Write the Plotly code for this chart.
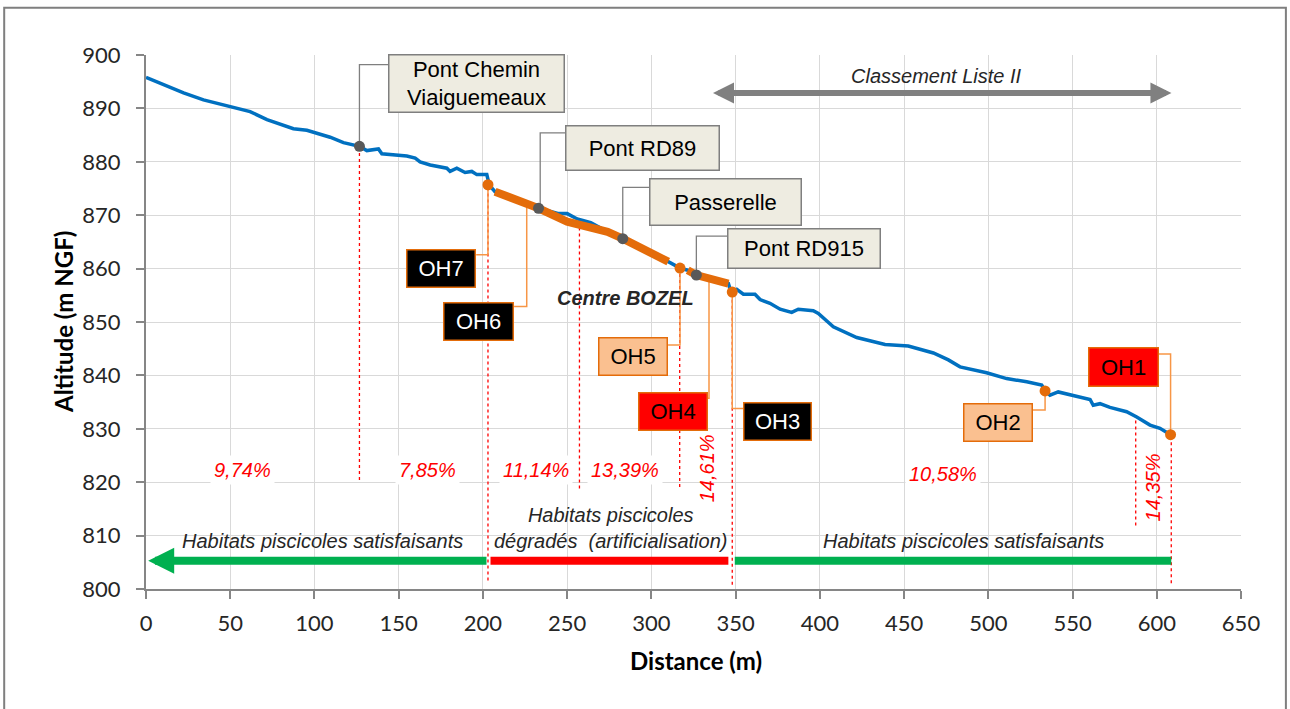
import plotly.graph_objects as go

# ---- data -------------------------------------------------------------
profile_d = [0, 10.4, 22.3, 34.1, 50, 61.8, 71.8, 87.5, 95.5, 109.3, 117.2, 126.7,
             131.1, 134.1, 138, 140, 146.9, 154.8, 159.8, 162.7, 168.7, 178.6, 180.5,
             184.5, 189.4, 193.4, 196.4, 202.3, 203.2, 205, 207.2, 226, 233, 245, 250,
             256, 264, 274, 283, 293.3, 303, 310, 315, 317, 321.6, 326.7, 345.7, 346.5,
             348, 350.7, 354.6, 361.5, 364.5, 370.4, 376.4, 383.3, 387.2, 396.1, 399.1,
             408, 421.9, 438.7, 452.5, 467.4, 476.3, 483.2, 499, 510.9, 522.8, 531.7,
             533.7, 536.6, 541.5, 550.4, 560.4, 562.3, 566.3, 572.2, 582.1, 588.1, 596,
             601.9, 608.2]
profile_alt = [895.8, 894.4, 892.9, 891.6, 890.4, 889.4, 887.9, 886.2, 885.9, 884.6, 883.6, 882.9,
               882.1, 882.2, 882.4, 881.5, 881.3, 881.1, 880.7, 880.0, 879.4, 878.8, 878.2,
               878.8, 878.0, 878.2, 877.6, 877.6, 876.4, 875.2, 874.4, 872.2, 871.3, 870.3, 870.3,
               869.3, 868.6, 866.9, 865.6, 863.8, 862.2, 861.3, 860.4, 860.1, 859.7, 858.8, 857.2, 856.4,
               855.6, 856.1, 855.2, 855.2, 854.2, 853.5, 852.4, 851.8, 852.4, 852.1, 851.6,
               849.1, 847.1, 845.8, 845.5, 844.2, 842.9, 841.6, 840.5, 839.4, 838.8, 838.2,
               837.1, 836.3, 836.9, 836.3, 835.5, 834.4, 834.7, 834.0, 833.2, 832.2, 830.7,
               830.1, 828.9]

# artificialised reaches (orange)
seg1_d = [207.2, 226, 233, 250, 264, 274, 283, 293.3, 310]
seg1_alt = [874.4, 872.2, 871.3, 868.8, 867.9, 866.9, 865.6, 863.8, 861.3]
seg2_d = [321.6, 326.7, 345.7]
seg2_alt = [859.7, 858.8, 857.2]

# bridges (grey points)
bridge_names = ["Pont Chemin<br>Viaiguemeaux", "Pont RD89", "Passerelle", "Pont RD915"]
bridge_d = [126.7, 233, 283, 326.7]
bridge_alt = [882.9, 871.3, 865.6, 858.8]

# obstacles (orange points)
oh_point_d = [203, 317, 348, 533.7, 608.2]
oh_point_alt = [875.7, 860.1, 855.6, 837.1, 828.9]

# slope boundaries (red dashed): distance, top, bottom
slope_d = [126.7, 203, 257.3, 316.8, 348, 587.5, 608.6]
slope_top = [882.9, 875.7, 867.9, 860.1, 855.6, 831.9, 828.9]
slope_bot = [820.4, 801.6, 818.8, 819.1, 800.8, 811.9, 801.1]

slope_labels = ["9,74%", "7,85%", "11,14%", "13,39%", "14,61%", "10,58%", "14,35%"]
slope_lab_d = [57, 167, 231.6, 284.4, 333, 473, 598]
slope_lab_alt = [822.2, 822.2, 822.2, 822.2, 822.6, 821.6, 819.1]
slope_lab_angle = [0, 0, 0, 0, -90, 0, -90]

# habitat bars
hab_green1 = (1.3, 203)
hab_red = (204.5, 345.7)
hab_green2 = (349.5, 608.6)
hab_alt = 805.3
liste2 = (335.7, 608.7, 892.9)

# ---- figure -----------------------------------------------------------
fig = go.Figure()

BLUE = "#0070C0"
ORANGE = "#E46C0A"
LORANGE = "#F79646"
GREY = "#595959"

# dashed slope boundaries
for d, t, b in zip(slope_d, slope_top, slope_bot):
    fig.add_shape(type="line", xref="x", yref="y", x0=d, x1=d, y0=b, y1=t,
                  line=dict(color="#FF0000", width=1.3, dash="3px,3px"), layer="between")

# connectors (label leader lines): list of polylines
grey_leaders = [
    ([126.7, 126.7, 143.7], [882.9, 898.2, 898.2]),
    ([234, 234, 248.8], [871.1, 885.4, 885.4]),
    ([283, 283, 298.6], [865.6, 875.2, 875.2]),
    ([326.7, 326.7, 344.9], [858.8, 866.1, 866.1]),
]
orange_leaders = [
    ([203, 203, 196], [875.7, 862.6, 862.6]),
    ([226, 226, 218.5], [872.2, 852.9, 852.9]),
    ([317, 317, 309.9], [860.1, 845.7, 845.7]),
    ([334.2, 334.2, 333.6], [858.4, 835.7, 835.7]),
    ([348, 348, 354.4], [855.6, 833.8, 833.8]),
    ([533.7, 533.7, 526.5], [837.1, 833.5, 833.5]),
    ([608.2, 608.2, 601.3], [828.9, 844.0, 844.0]),
]
for xs, ys in grey_leaders:
    fig.add_trace(go.Scatter(x=xs, y=ys, mode="lines", line=dict(color="#7F7F7F", width=1.3),
                             hoverinfo="skip", showlegend=False))
for xs, ys in orange_leaders:
    fig.add_trace(go.Scatter(x=xs, y=ys, mode="lines", line=dict(color=LORANGE, width=1.5),
                             hoverinfo="skip", showlegend=False))

# profile
fig.add_trace(go.Scatter(x=profile_d, y=profile_alt, mode="lines",
                         line=dict(color=BLUE, width=3.5), showlegend=False))
fig.add_trace(go.Scatter(x=seg1_d, y=seg1_alt, mode="lines",
                         line=dict(color=ORANGE, width=8), showlegend=False))
fig.add_trace(go.Scatter(x=seg2_d, y=seg2_alt, mode="lines",
                         line=dict(color=ORANGE, width=8), showlegend=False))
fig.add_trace(go.Scatter(x=bridge_d, y=bridge_alt, mode="markers",
                         marker=dict(color=GREY, size=11), showlegend=False))
fig.add_trace(go.Scatter(x=oh_point_d, y=oh_point_alt, mode="markers",
                         marker=dict(color=ORANGE, size=11), showlegend=False))

# habitat bars
fig.add_shape(type="line", xref="x", yref="y", x0=hab_red[0], x1=hab_red[1], y0=hab_alt, y1=hab_alt,
              line=dict(color="#FF0000", width=8))
fig.add_shape(type="line", xref="x", yref="y", x0=hab_green2[0], x1=hab_green2[1], y0=hab_alt, y1=hab_alt,
              line=dict(color="#00B050", width=8))
fig.add_annotation(x=hab_green1[0], y=hab_alt, ax=hab_green1[1], ay=hab_alt, axref="x", ayref="y",
                   xref="x", yref="y", text="", showarrow=True, arrowhead=2, arrowsize=0.65,
                   arrowwidth=8, arrowcolor="#00B050", standoff=0, startstandoff=0)
# Classement Liste II arrow
fig.add_annotation(x=liste2[1], y=liste2[2], ax=liste2[0], ay=liste2[2], axref="x", ayref="y",
                   xref="x", yref="y", text="", showarrow=True, arrowhead=2, startarrowhead=2,
                   arrowside="end+start", arrowsize=0.7, startarrowsize=0.7,
                   arrowwidth=6, arrowcolor="#808080", standoff=0, startstandoff=0)

ARIAL = "Liberation Sans, Arial, sans-serif"
CAL = "Lato, Carlito, sans-serif"

def box(text, x, y, w, h, bg, border, color):
    fig.add_annotation(x=x, y=y, xref="x", yref="y", text=text, showarrow=False,
                       width=w, height=h, bgcolor=bg, bordercolor=border, borderwidth=1.5,
                       borderpad=0, font=dict(family=ARIAL, size=22, color=color),
                       align="center", valign="middle")

BEIGE = "#EEECE1"
box("Pont Chemin<br>Viaiguemeaux", 196.3, 894.7, 174, 56, BEIGE, "#7F7F7F", "#000")
box("Pont RD89", 294.8, 882.6, 152, 43, BEIGE, "#7F7F7F", "#000")
box("Passerelle", 344.0, 872.5, 150, 45, BEIGE, "#7F7F7F", "#000")
box("Pont RD915", 390.6, 863.8, 151, 38, BEIGE, "#7F7F7F", "#000")
box("OH7", 175.2, 860.0, 67, 36, "#000000", ORANGE, "#fff")
box("OH6", 197.4, 850.1, 68, 36, "#000000", ORANGE, "#fff")
box("OH5", 289.1, 843.5, 67, 36, "#FAC090", ORANGE, "#000")
box("OH4", 312.9, 833.2, 67, 36, "#FF0000", ORANGE, "#000")
box("OH3", 374.9, 831.3, 66, 36, "#000000", ORANGE, "#fff")
box("OH2", 505.6, 831.1, 67, 36, "#FAC090", ORANGE, "#000")
box("OH1", 580.1, 841.6, 68, 37, "#FF0000", ORANGE, "#000")

# slope labels
for t, x, y, ang in zip(slope_labels, slope_lab_d, slope_lab_alt, slope_lab_angle):
    fig.add_annotation(x=x, y=y, xref="x", yref="y", text="<i>%s</i>" % t, showarrow=False,
                       textangle=ang, bgcolor="white" if ang == 0 else "rgba(0,0,0,0)",
                       borderpad=3, font=dict(family=ARIAL, size=20, color="#FF0000"))

def ital(text, x, y, size=20, bold=False):
    t = "<i>%s</i>" % text
    if bold:
        t = "<b>%s</b>" % t
    fig.add_annotation(x=x, y=y, xref="x", yref="y", text=t, showarrow=False,
                       font=dict(family=ARIAL, size=size, color="#262626"), align="center")

ital("Habitats piscicoles satisfaisants", 104.6, 808.9)
ital("Habitats piscicoles<br>dégradés  (artificialisation)", 275.5, 811.4)
ital("Habitats piscicoles satisfaisants", 485.3, 808.9)
ital("Classement Liste II", 469.2, 896.0)
ital("Centre BOZEL", 284.4, 854.5, size=20, bold=True)

# axis titles
fig.add_annotation(x=-0.0758, y=0.5, xref="paper", yref="paper", text="<b>Altitude (m NGF)</b>",
                   textangle=-90, showarrow=False, xanchor="center", yanchor="middle",
                   font=dict(family=CAL, size=24, color="#000"))
fig.add_annotation(x=0.502, y=-0.134, xref="paper", yref="paper", text="<b>Distance (m)</b>",
                   showarrow=False, xanchor="center", yanchor="middle",
                   font=dict(family=CAL, size=24, color="#000"))

# outer frame
fig.add_shape(type="rect", xref="paper", yref="paper", x0=-0.1295, x1=1.041, y0=-0.25, y1=1.0887,
              line=dict(color="#7F7F7F", width=2), fillcolor="rgba(0,0,0,0)")

fig.update_xaxes(range=[0, 650], dtick=50, tick0=0, showgrid=True, gridcolor="#D9D9D9", gridwidth=1.2,
                 showline=True, linecolor="#868686", linewidth=2, ticks="outside", ticklen=8,
                 tickcolor="#868686", tickwidth=2, zeroline=False, ticklabelstandoff=6,
                 tickfont=dict(family=CAL, size=22, color="#262626"))
fig.update_yaxes(range=[800, 900], dtick=10, tick0=800, showgrid=True, gridcolor="#D9D9D9", gridwidth=1.2,
                 showline=True, linecolor="#868686", linewidth=2, ticks="outside", ticklen=8,
                 tickcolor="#868686", tickwidth=2, zeroline=False, ticklabelstandoff=11,
                 tickfont=dict(family=CAL, size=22, color="#262626"))

fig.update_layout(width=1290, height=709, margin=dict(l=146, r=49, t=55, b=120),
                  plot_bgcolor="white", paper_bgcolor="white", showlegend=False)

fig.write_html("out.html", config={"displayModeBar": False},
               post_script="document.body.style.margin='0px';document.body.style.overflow='hidden';")
